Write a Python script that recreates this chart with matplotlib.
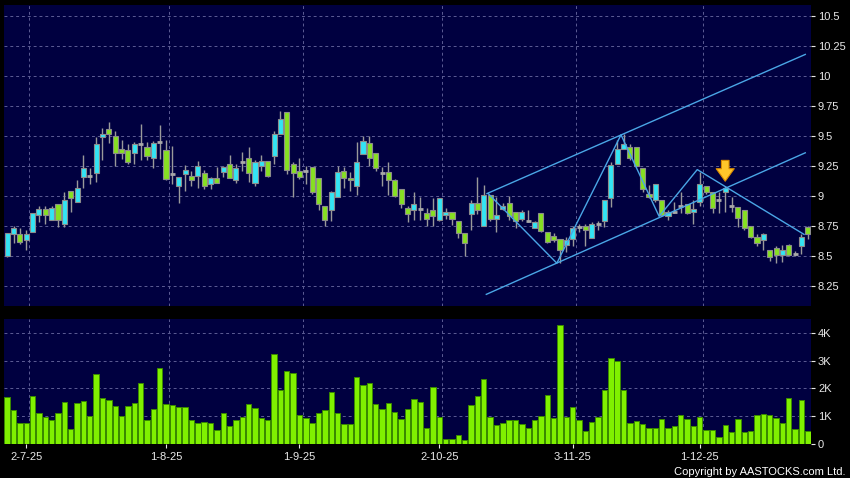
import numpy as np
import matplotlib
matplotlib.use("Agg")
import matplotlib.pyplot as plt
from matplotlib.patches import Rectangle

plt.rcParams['font.family'] = ['Liberation Sans', 'DejaVu Sans']

# daily candles, one per trading day (index 0 = 26-6-25)
opens = [8.50, 8.68, 8.68, 8.63, 8.70, 8.84, 8.89, 8.80, 8.93, 8.77,
         9.04, 8.95, 9.16, 9.17, 9.19, 9.49, 9.56, 9.50, 9.39, 9.38,
         9.36, 9.43, 9.41, 9.32, 9.45, 9.38, 9.18, 9.08, 9.18, 9.17,
         9.17, 9.19, 9.10, 9.15, 9.20, 9.27, 9.13, 9.28, 9.32, 9.11,
         9.25, 9.29, 9.33, 9.52, 9.70, 9.27, 9.21, 9.21, 9.24, 9.15,
         8.92, 8.88, 8.99, 9.21, 9.15, 9.08, 9.35, 9.44, 9.36, 9.19,
         9.20, 9.13, 9.06, 8.90, 8.88, 8.89, 8.86, 8.88, 8.80, 8.84,
         8.87, 8.79, 8.69, 8.85, 8.94, 8.75, 9.01, 8.81, 8.89, 8.94,
         8.87, 8.81, 8.79, 8.73, 8.86, 8.70, 8.67, 8.64, 8.59, 8.64,
         8.74, 8.75, 8.65, 8.77, 8.79, 8.98, 9.27, 9.39, 9.41, 9.41,
         9.23, 9.02, 8.97, 8.97, 8.83, 8.87, 8.92, 8.93, 8.87, 8.95,
         9.08, 9.03, 8.97, 9.03, 8.92, 8.91, 8.88, 8.75, 8.66, 8.63,
         8.55, 8.57, 8.51, 8.59, 8.52, 8.58, 8.74]
highs = [8.69, 8.75, 8.73, 8.72, 8.86, 8.92, 8.92, 8.92, 8.93, 9.03,
         9.04, 9.13, 9.34, 9.23, 9.49, 9.57, 9.62, 9.54, 9.47, 9.43,
         9.45, 9.60, 9.45, 9.46, 9.59, 9.47, 9.42, 9.16, 9.26, 9.21,
         9.29, 9.22, 9.16, 9.24, 9.25, 9.34, 9.27, 9.37, 9.41, 9.30,
         9.34, 9.29, 9.54, 9.71, 9.70, 9.28, 9.32, 9.25, 9.24, 9.15,
         8.92, 9.04, 9.25, 9.24, 9.20, 9.45, 9.50, 9.50, 9.36, 9.24,
         9.28, 9.14, 9.06, 8.92, 9.03, 8.99, 8.90, 8.98, 8.98, 8.90,
         8.87, 8.79, 8.69, 8.97, 9.16, 9.09, 9.01, 8.99, 8.94, 9.00,
         8.87, 8.88, 8.88, 8.79, 8.86, 8.70, 8.69, 8.64, 8.66, 8.75,
         8.77, 8.77, 8.78, 8.79, 8.97, 9.28, 9.47, 9.52, 9.43, 9.41,
         9.23, 9.09, 9.10, 8.97, 8.88, 8.95, 9.03, 8.93, 8.97, 9.20,
         9.08, 9.03, 9.03, 9.08, 8.99, 8.91, 8.88, 8.75, 8.68, 8.69,
         8.55, 8.58, 8.59, 8.60, 8.54, 8.68, 8.75]
lows = [8.49, 8.61, 8.60, 8.55, 8.70, 8.78, 8.77, 8.80, 8.74, 8.74,
        8.87, 8.95, 9.07, 9.10, 9.12, 9.30, 9.44, 9.25, 9.31, 9.27,
        9.27, 9.30, 9.30, 9.23, 9.31, 9.13, 9.10, 8.94, 9.04, 9.08,
        9.07, 9.06, 9.06, 9.11, 9.16, 9.15, 9.11, 9.21, 9.12, 9.08,
        9.21, 9.16, 9.27, 9.52, 9.18, 8.99, 9.14, 9.10, 9.02, 8.88,
        8.75, 8.79, 8.99, 9.07, 9.04, 9.01, 9.35, 9.25, 9.21, 9.08,
        9.01, 8.99, 8.90, 8.78, 8.80, 8.80, 8.75, 8.75, 8.79, 8.81,
        8.76, 8.65, 8.50, 8.72, 8.85, 8.75, 8.79, 8.70, 8.88, 8.80,
        8.73, 8.79, 8.78, 8.73, 8.70, 8.61, 8.62, 8.44, 8.53, 8.58,
        8.70, 8.58, 8.65, 8.72, 8.74, 8.91, 9.27, 9.39, 9.30, 9.24,
        9.03, 8.98, 8.95, 8.83, 8.80, 8.86, 8.86, 8.85, 8.77, 8.92,
        9.02, 8.86, 8.86, 8.87, 8.87, 8.74, 8.72, 8.65, 8.58, 8.55,
        8.46, 8.44, 8.45, 8.50, 8.50, 8.52, 8.64]
closes = [8.69, 8.73, 8.62, 8.68, 8.86, 8.89, 8.84, 8.90, 8.80, 8.97,
          8.98, 9.07, 9.23, 9.17, 9.43, 9.52, 9.52, 9.36, 9.36, 9.28,
          9.43, 9.43, 9.33, 9.44, 9.45, 9.14, 9.18, 9.16, 9.22, 9.13,
          9.25, 9.08, 9.15, 9.11, 9.24, 9.15, 9.23, 9.28, 9.19, 9.28,
          9.29, 9.17, 9.52, 9.64, 9.22, 9.19, 9.16, 9.21, 9.03, 8.93,
          8.80, 9.03, 9.20, 9.15, 9.13, 9.28, 9.46, 9.32, 9.23, 9.19,
          9.13, 9.00, 8.93, 8.85, 8.93, 8.89, 8.81, 8.83, 8.98, 8.87,
          8.81, 8.69, 8.61, 8.94, 8.88, 9.01, 8.81, 8.84, 8.92, 8.83,
          8.79, 8.87, 8.79, 8.78, 8.71, 8.62, 8.63, 8.55, 8.63, 8.73,
          8.74, 8.72, 8.77, 8.77, 8.97, 9.26, 9.39, 9.43, 9.32, 9.25,
          9.06, 8.99, 9.10, 8.84, 8.87, 8.87, 8.92, 8.86, 8.89, 9.10,
          9.03, 8.90, 8.97, 9.07, 8.92, 8.82, 8.73, 8.66, 8.61, 8.68,
          8.49, 8.51, 8.55, 8.51, 8.52, 8.66, 8.68]
# volume in thousands
volumes = [1.70, 1.21, 0.75, 0.73, 1.73, 1.12, 0.97, 0.87, 1.12, 1.52,
           0.53, 1.48, 1.54, 0.99, 2.51, 1.64, 1.58, 1.37, 0.99, 1.36,
           1.48, 2.18, 0.87, 1.24, 2.74, 1.43, 1.41, 1.33, 1.33, 0.84,
           0.75, 0.79, 0.76, 0.48, 1.10, 0.64, 0.85, 0.95, 1.43, 1.28,
           0.93, 0.86, 3.25, 1.96, 2.63, 2.57, 1.03, 0.93, 0.76, 1.09,
           1.21, 1.87, 1.09, 0.69, 0.70, 2.42, 2.12, 2.18, 1.42, 1.27,
           1.48, 1.14, 0.90, 1.24, 1.62, 1.49,
           0.57, 2.05, 0.97, 0.16, 0.18, 0.30, 0.12, 1.39, 1.72, 2.33,
           0.95, 0.67, 0.74, 0.85, 0.85, 0.72, 0.55, 0.84, 0.99, 1.77,
           0.92, 4.29, 0.98, 1.31, 0.85, 0.44, 0.79, 0.95, 1.94, 3.09,
           3.01, 1.93, 0.75, 0.80, 0.72, 0.56, 0.56, 0.90, 0.56, 0.65,
           1.03, 0.88, 0.63, 0.97, 0.48, 0.48, 0.24, 0.67, 0.41, 0.90,
           0.40, 0.44, 1.03, 1.07, 1.05, 0.93, 0.74, 1.66, 0.52, 1.58, 0.47]

date_ticks = [3, 25, 46, 68, 89, 109]
date_labels = ['2-7-25', '1-8-25', '1-9-25', '2-10-25', '3-11-25', '1-12-25']
price_ticks = [8.25, 8.5, 8.75, 9, 9.25, 9.5, 9.75, 10, 10.25, 10.5]
price_labels = ['8.25', '8.5', '8.75', '9', '9.25', '9.5', '9.75', '10', '10.25', '10.5']
vol_ticks = [0, 1, 2, 3, 4]
vol_labels = ['0', '1K', '2K', '3K', '4K']

# trend lines drawn on the chart
channel_top_x = [75.5, 125.6]
channel_top_y = [9.02, 10.18]
channel_bot_x = [75.4, 125.6]
channel_bot_y = [8.18, 9.36]
zigzag_x = [75.7, 86.5, 96.6, 102.6, 108.6, 125.4]
zigzag_y = [9.02, 8.44, 9.51, 8.83, 9.22, 8.68]
arrow_idx = 113

BG = '#000040'
GRID = '#5c5c94'
UP = '#33e4f4'
DOWN = '#86e022'
TXT = '#e8e8e8'

fig = plt.figure(figsize=(8.5, 4.78), dpi=100, facecolor='black')
ax = fig.add_axes([4 / 850, 1 - 306 / 478, 807 / 850, 301 / 478])
axv = fig.add_axes([4 / 850, 1 - 443.5 / 478, 807 / 850, 124.5 / 478])

n = len(opens)
x = np.arange(n)

for a in (ax, axv):
    a.set_facecolor(BG)
    for s in a.spines.values():
        s.set_visible(False)
    a.set_xlim(-0.5, n - 0.5)
    a.yaxis.tick_right()
    a.tick_params(axis='y', colors=TXT, labelsize=8, length=3, width=0.8, pad=2)
    a.grid(axis='y', color=GRID, linestyle=(0, (3, 3)), linewidth=0.7)
    for t in date_ticks:
        a.axvline(t + 0.5, color=GRID, linestyle=(0, (3, 3)), linewidth=0.7, zorder=0)
    a.set_axisbelow(True)

# price panel
ax.vlines(x, lows, highs, color='#9a9a9a', linewidth=1, zorder=2)
for i in range(n):
    o, c = opens[i], closes[i]
    if abs(c - o) < 1e-9:
        ax.hlines(o, i - 0.4, i + 0.4, color='#a8a8a8', linewidth=2, zorder=3)
    else:
        col = UP if c > o else DOWN
        ax.add_patch(Rectangle((i - 0.4, min(o, c)), 0.8, abs(c - o),
                               facecolor=col, edgecolor='#8c8c8c', linewidth=0.8, zorder=3))

line_kw = dict(color='#4aa6e6', linewidth=1, zorder=4)
ax.plot(channel_top_x, channel_top_y, **line_kw)
ax.plot(channel_bot_x, channel_bot_y, **line_kw)
ax.plot(zigzag_x, zigzag_y, **line_kw)

# marker arrow over the signal candle
ax.annotate('', xy=(arrow_idx, highs[arrow_idx] + 0.02), xytext=(arrow_idx, highs[arrow_idx] + 0.24),
            arrowprops=dict(arrowstyle='simple,head_width=1.3,head_length=0.9,tail_width=0.55',
                            fc='#ffc62a', ec='#d98a00', lw=0.8), zorder=5)

ax.set_ylim(8.083, 10.592)
ax.set_yticks(price_ticks)
ax.set_yticklabels(price_labels)
ax.set_xticks([])

# volume panel
axv.bar(x, volumes, width=0.85, color='#80f000', edgecolor='#3a8a00', linewidth=0.7, zorder=2)
axv.set_ylim(0, 4.52)
axv.set_yticks(vol_ticks)
axv.set_yticklabels(vol_labels)
axv.set_xticks(date_ticks)
axv.set_xticklabels(date_labels)
axv.tick_params(axis='x', colors=TXT, labelsize=8, length=3, width=0.8, pad=3)

fig.text(0.995, 0.0135, 'Copyright by AASTOCKS.com Ltd.', color='white', fontsize=8,
         ha='right', va='center')

fig.savefig('out.png', dpi=100, facecolor='black')
